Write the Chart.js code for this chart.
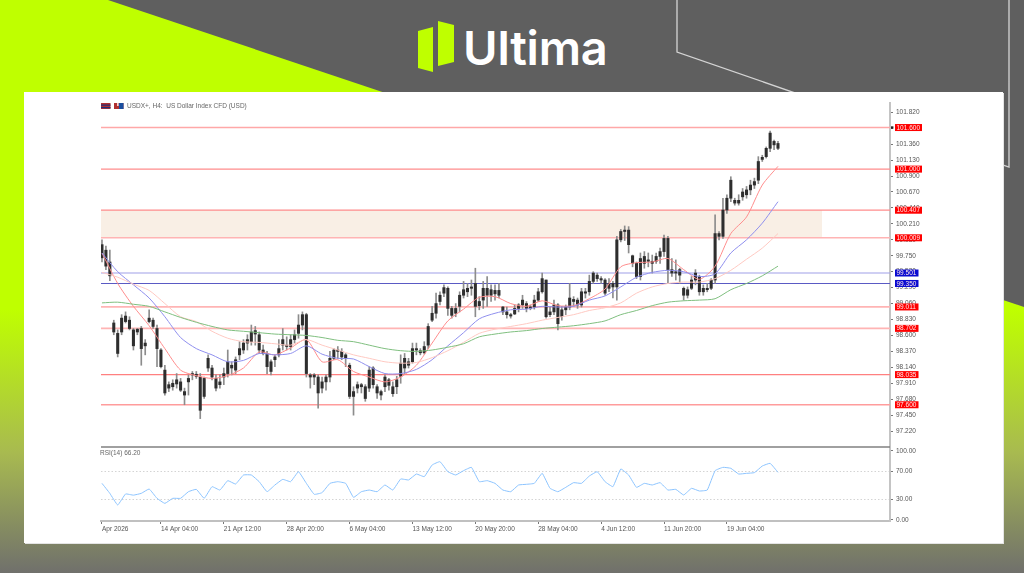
<!DOCTYPE html>
<html><head><meta charset="utf-8">
<script src="https://cdn.jsdelivr.net/npm/chart.js@4"></script>
<style>
html,body{margin:0;padding:0;width:1024px;height:573px;overflow:hidden;background:#5f5f5f}
#bg{position:absolute;left:0;top:0}
#card{position:absolute;left:24px;top:92px;width:979px;height:451px;background:#fff;box-shadow:1px 1px 0 #e4e4e4}
#c{position:absolute;left:0;top:0;filter:blur(0.4px)}
</style></head><body>
<svg id="bg" width="1024" height="573" viewBox="0 0 1024 573">
<defs><linearGradient id="g" gradientUnits="userSpaceOnUse" x1="0" y1="0" x2="0" y2="573">
<stop offset="0.54" stop-color="#bfff00"/><stop offset="0.79" stop-color="#a8ba50"/><stop offset="1" stop-color="#70706c"/></linearGradient></defs>
<rect width="1024" height="573" fill="#5f5f5f"/>
<polygon points="0,0 108,0 1024,307 1024,573 0,573" fill="url(#g)"/>
<polyline points="677,0 677,52 1009,167 1009,0" fill="none" stroke="#d4d4d4" stroke-width="1.3"/>
<polygon points="418,31 433,27 433,72 418,68" fill="#bfff00"/>
<polygon points="438,21 454,25 454,62 438,66" fill="#bfff00"/>
<text x="463" y="65" font-family="Inter" font-weight="600" font-size="47" letter-spacing="-0.2" fill="#fff">Ultima</text>
</svg>
<div id="card"><canvas id="c" width="979" height="451"></canvas></div>
<script>
const barHigh=[99.98,99.89,99.83,98.82,98.68,98.90,98.94,98.87,98.70,98.70,
98.73,98.54,98.97,98.85,98.75,98.41,98.17,97.93,97.96,98.05,
97.98,97.84,98.03,98.08,98.08,98.05,98.00,98.32,98.17,98.03,
98.03,98.13,98.39,98.22,98.29,98.51,98.54,98.61,98.75,98.73,
98.65,98.46,98.37,98.25,98.32,98.54,98.70,98.58,98.61,98.68,
98.90,98.94,98.92,98.05,98.05,98.03,98.00,98.03,98.37,98.41,
98.44,98.41,98.34,98.20,97.86,97.93,97.91,97.89,98.15,98.15,
97.89,97.81,98.03,97.98,97.93,98.01,98.32,98.34,98.27,98.49,
98.49,98.41,98.51,98.77,99.02,99.21,99.23,99.33,99.30,99.02,
99.06,99.23,99.38,99.35,99.40,99.57,99.16,99.38,99.45,99.33,
99.33,99.35,99.02,99.01,98.92,99.04,99.06,99.18,99.09,99.04,
99.18,99.28,99.50,99.40,99.02,99.11,99.06,99.02,99.04,99.35,
99.16,99.14,99.28,99.28,99.47,99.52,99.50,99.45,99.42,99.42,
99.38,100.03,100.13,100.18,100.17,99.76,99.66,99.79,99.81,99.79,
99.76,99.79,99.86,100.05,100.03,99.71,99.69,99.57,99.30,99.30,
99.45,99.55,99.47,99.33,99.35,99.42,100.34,100.10,100.58,100.63,
100.89,100.58,100.63,100.72,100.75,100.84,100.87,101.18,101.20,101.32,
101.55,101.42,101.40];
const barLow=[99.66,99.55,99.39,98.61,98.29,98.61,98.78,98.68,98.39,98.61,
98.17,98.32,98.78,98.70,98.15,98.13,97.74,97.79,97.81,97.84,
97.79,97.60,97.74,97.96,97.98,97.40,97.69,98.08,97.96,97.80,
97.84,97.89,98.00,98.03,98.05,98.25,98.34,98.39,98.46,98.46,
98.34,98.32,98.05,98.03,98.15,98.29,98.39,98.39,98.39,98.49,
98.56,98.68,98.00,97.84,97.89,97.55,97.77,97.81,97.93,98.25,
98.27,98.25,98.15,97.69,97.45,97.77,97.77,97.65,97.79,97.84,
97.69,97.67,97.79,97.81,97.72,97.76,97.91,98.05,98.13,98.20,
98.32,98.32,98.33,98.41,98.80,98.85,99.04,99.16,98.89,98.85,
98.87,98.94,99.14,99.16,99.18,98.87,98.97,98.99,99.02,99.09,
99.11,99.14,98.90,98.85,98.85,98.90,98.94,98.99,98.94,98.97,
98.98,99.09,99.21,98.85,98.87,98.90,98.68,98.82,98.90,98.97,
99.02,98.99,99.01,99.14,99.18,99.35,99.38,99.35,99.18,99.23,
99.14,99.11,99.95,99.97,99.79,99.59,99.42,99.40,99.57,99.59,
99.50,99.64,99.64,99.74,99.35,99.45,99.40,99.35,99.11,99.14,
99.26,99.33,99.18,99.18,99.23,99.26,99.35,99.98,100.00,100.36,
100.53,100.48,100.48,100.55,100.58,100.63,100.72,100.79,101.11,101.16,
101.25,101.28,101.28];
const barOpen=[99.91,99.83,99.66,98.78,98.63,98.85,98.88,98.82,98.68,98.69,
98.70,98.49,98.85,98.82,98.70,98.39,98.10,97.89,97.91,97.96,
97.93,97.79,97.93,98.03,98.04,98.00,97.98,98.27,98.13,97.98,
97.89,98.00,98.05,98.17,98.10,98.32,98.39,98.49,98.51,98.67,
98.61,98.39,98.34,98.08,98.25,98.32,98.46,98.46,98.44,98.54,
98.63,98.75,98.90,98.03,98.00,98.00,97.84,97.93,98.00,98.27,
98.37,98.37,98.32,98.17,97.72,97.84,97.89,97.86,97.84,98.13,
97.86,97.79,97.86,97.96,97.76,97.86,98.01,98.13,98.17,98.22,
98.41,98.38,98.35,98.46,98.82,98.92,99.09,99.21,99.28,98.99,
98.92,99.02,99.18,99.23,99.28,99.02,99.03,99.11,99.28,99.18,
99.20,99.25,99.01,98.94,98.90,98.91,98.99,99.04,99.06,99.01,
99.01,99.11,99.23,99.40,98.90,98.94,99.04,98.87,98.97,99.01,
99.12,99.11,99.04,99.21,99.23,99.38,99.47,99.42,99.40,99.28,
99.35,99.30,99.98,100.10,100.12,99.75,99.64,99.71,99.64,99.67,
99.67,99.67,99.74,99.81,100.00,99.55,99.50,99.55,99.28,99.18,
99.28,99.40,99.45,99.23,99.28,99.28,99.40,100.07,100.03,100.41,
100.58,100.55,100.51,100.60,100.63,100.70,100.77,100.84,101.14,101.18,
101.30,101.40,101.37];
const barClose=[99.72,99.60,99.46,98.65,98.34,98.65,98.80,98.70,98.45,98.65,
98.41,98.45,98.80,98.73,98.41,98.15,97.77,97.84,97.86,97.90,
97.81,97.74,97.98,98.05,98.01,97.52,97.72,98.13,98.00,97.84,
97.93,98.05,98.22,98.13,98.25,98.41,98.49,98.54,98.65,98.62,
98.39,98.34,98.15,98.22,98.29,98.41,98.54,98.44,98.54,98.61,
98.75,98.90,98.05,98.00,98.03,97.77,97.93,98.00,98.27,98.39,
98.39,98.29,98.27,97.72,97.79,97.89,97.86,97.69,98.10,97.89,
97.77,97.74,98.00,97.88,97.86,97.96,98.20,98.27,98.22,98.41,
98.39,98.35,98.44,98.73,98.92,99.06,99.18,99.29,98.99,98.89,
98.99,99.18,99.26,99.28,99.30,99.35,99.09,99.28,99.18,99.26,
99.25,99.18,98.94,98.90,98.88,98.99,99.04,99.11,98.99,98.99,
99.11,99.23,99.42,98.87,98.94,99.04,98.77,98.97,99.01,99.14,
99.09,99.04,99.23,99.23,99.38,99.50,99.42,99.40,99.21,99.35,
99.30,99.98,100.10,100.12,99.91,99.64,99.45,99.45,99.74,99.69,
99.64,99.74,99.81,100.00,99.55,99.50,99.52,99.47,99.18,99.26,
99.40,99.50,99.23,99.28,99.26,99.40,100.07,100.03,100.41,100.58,
100.84,100.51,100.55,100.67,100.70,100.77,100.82,101.11,101.17,101.30,
101.52,101.35,101.30];
// moving averages, read every 4th bar
const maStep=4;
const maRed=[99.79,99.35,99.02,98.74,98.41,98.10,98.02,97.98,98.02,98.13,98.36,98.32,98.42,98.54,98.22,98.25,98.08,98.00,97.93,98.00,98.17,98.49,98.81,98.98,99.15,99.16,99.06,99.02,99.10,99.03,99.03,99.13,99.27,99.59,99.65,99.66,99.71,99.55,99.41,99.60,100.07,100.31,100.77,101.04];
const maBlue=[99.79,99.52,99.33,99.14,98.87,98.57,98.41,98.32,98.22,98.24,98.34,98.32,98.34,98.45,98.33,98.27,98.26,98.15,98.05,98.05,98.11,98.25,98.45,98.64,98.84,98.92,98.97,98.98,99.02,99.01,99.02,99.11,99.17,99.30,99.44,99.51,99.54,99.52,99.45,99.49,99.79,99.98,100.22,100.53];
const maPink=[99.51,99.44,99.34,99.25,99.06,98.87,98.80,98.66,98.56,98.51,98.50,98.48,98.46,98.54,98.46,98.39,98.32,98.27,98.22,98.20,98.21,98.28,98.38,98.50,98.63,98.69,98.73,98.77,98.82,98.86,98.90,98.96,99.00,99.07,99.21,99.30,99.35,99.37,99.37,99.42,99.54,99.70,99.86,100.07];
const maGreen=[99.07,99.08,99.05,99.02,98.94,98.86,98.79,98.73,98.68,98.66,98.64,98.62,98.61,98.60,98.57,98.53,98.51,98.46,98.41,98.38,98.37,98.39,98.43,98.48,98.58,98.62,98.65,98.67,98.70,98.72,98.74,98.77,98.81,98.90,98.96,99.03,99.08,99.10,99.11,99.13,99.26,99.35,99.46,99.60];
// RSI(14), read every 2nd bar
const rsiStep=2;
const rsiValues=[53.1,38.6,21.7,37.7,36,38.6,44.9,31.4,24.1,31.4,31.4,41,44.4,31.4,48.3,43.4,57,52.1,65.2,65.2,55.5,41,50.7,58.9,55.5,70,53.1,37.2,39.6,53.1,55.5,53.1,32.8,41,43.4,41,50.7,43.4,59.4,58,66.6,62.8,79.7,84.5,70,65.2,71.5,76.3,55.5,57,53.1,43.4,41,50.7,51.7,53.1,67.6,45.9,41,47.3,54.1,53.1,63.7,70,55.5,48.3,73.9,65.2,47.3,53.1,50.7,54.1,43.4,44.4,36.2,45.9,42,43.4,71.5,76.3,74.9,66.6,67.6,68.6,78.2,82.1,69];
const priceTicks=[101.82,101.59,101.36,101.13,100.90,100.67,100.44,100.21,99.98,99.75,99.52,99.29,99.06,98.83,98.60,98.37,98.14,97.91,97.68,97.45,97.22];
const rsiTicks=[100,70,30,0];
const xTickBars=[0,15,31,47,63,79,95,111,127,143,159];
const xTickText=['Apr 2026','14 Apr 04:00','21 Apr 12:00','28 Apr 20:00','6 May 04:00','13 May 12:00','20 May 20:00','28 May 04:00','4 Jun 12:00','11 Jun 20:00','19 Jun 04:00'];
const levelValues=[101.6,101.0,100.407,100.009,99.501,99.35,99.011,98.702,98.035,97.6];
const levelLabels=['101.600','101.000','100.407','100.009','99.501','99.350','99.011','98.702','98.035','97.600'];
const levelLineColors=['#ffa8a8','#ff8c8c','#ff8c8c','#ffb4b4','#a0a0e8','#5a5ac4','#ffb4b4','#ffb4b4','#ff8080','#ff9c9c'];
const levelLineWidths=[1.4,1.2,1.2,1.6,1.1,1.1,1.8,1.6,1.1,1.4];
const levelTagColors=['#ff0000','#ff0000','#ff0000','#ff0000','#0a0ad0','#0a0ad0','#ff0000','#ff0000','#ff0000','#ff0000'];
const zoneLow=100.009, zoneHigh=100.407, zoneEndBar=183.2;
const titleText='USDX+, H4:  US Dollar Index CFD (USD)';
const rsiText='RSI(14) 66.20';
const FONT='"Liberation Sans"';

const wicks=barHigh.map((h,i)=>({x:i,y:[barLow[i],h]}));
const bodies=barOpen.map((o,i)=>({x:i,y:[o,barClose[i]]}));
const sampled=(arr,step)=>arr.map((v,k)=>({x:k*step,y:v}));
const lineDs=(label,arr,color,yAxisID,step,order)=>({type:'line',label,data:sampled(arr,step),borderColor:color,borderWidth:1,pointRadius:0,tension:0.25,yAxisID,xAxisID:'x',order});

const overlay={id:'overlay',
 beforeDatasetsDraw(ch){
  const c=ch.ctx,x=ch.scales.x,y=ch.scales.y;
  c.save();
  c.fillStyle='#f9efe5';
  const yt=y.getPixelForValue(zoneHigh),yb=y.getPixelForValue(zoneLow);
  c.fillRect(x.left,yt,x.getPixelForValue(zoneEndBar)-x.left,yb-yt);
  levelValues.forEach((v,i)=>{
   const p=y.getPixelForValue(v);
   c.strokeStyle=levelLineColors[i];c.lineWidth=levelLineWidths[i];
   c.beginPath();c.moveTo(x.left,p);c.lineTo(x.right,p);c.stroke();
  });
  c.restore();
 },
 afterDraw(ch){
  const c=ch.ctx,x=ch.scales.x,y=ch.scales.y,r=ch.scales.yRsi;
  c.save();
  // separator between the panes
  c.strokeStyle='#808080';c.lineWidth=1.6;
  c.beginPath();c.moveTo(x.left,y.bottom-1);c.lineTo(x.right,y.bottom-1);c.stroke();
  // price tags
  c.font='6.5px '+FONT;c.textBaseline='middle';c.textAlign='left';
  levelValues.forEach((v,i)=>{
   const p=y.getPixelForValue(v);
   const w=levelLabels[i].length>6?27:23.5;
   c.fillStyle=levelTagColors[i];
   c.fillRect(x.right+5,p-3.5,w,7);
   c.fillStyle='#ffe8e8';
   c.fillText(levelLabels[i],x.right+6.5,p+0.3);
  });
  // current price marker
  c.fillStyle='#222';
  c.fillRect(x.right+1,y.getPixelForValue(levelValues[0])-1.2,2.4,2.4);
  // header text
  c.fillStyle='#666';
  c.fillText(titleText,x.left+26,14.5);
  c.fillText(rsiText,x.left-1,r.top+5);
  // header icons
  const icons=[[x.left,'#b03030','#20307a'],[x.left+13,'#b03030','#1a4fa0']];
  icons.forEach(([ix,a,b],k)=>{
   c.fillStyle=a;c.fillRect(ix,11,9.5,6);
   c.fillStyle=b;
   if(k===0){c.fillRect(ix,12.5,9.5,1.2);c.fillRect(ix,15,9.5,1.2);}
   else{c.fillRect(ix+5,11,4.5,6);c.fillStyle='#fff';c.fillRect(ix+3.2,11,1.3,3);}
  });
  c.restore();
 }};

new Chart(document.getElementById('c'),{
 data:{datasets:[
  {type:'bar',label:'High-Low',data:wicks,backgroundColor:'#8c8c8c',barThickness:1,maxBarThickness:1,grouped:false,minBarLength:1,yAxisID:'y',xAxisID:'x',order:6},
  {type:'bar',label:'Open-Close',data:bodies,backgroundColor:'#2e2e2e',barThickness:2.4,maxBarThickness:2.4,grouped:false,minBarLength:1.2,yAxisID:'y',xAxisID:'x',order:5},
  lineDs('MA fast',maRed,'#ff8d8d','y',maStep,4),
  lineDs('MA medium',maBlue,'#8f8fee','y',maStep,3),
  lineDs('MA slow',maPink,'#ffc9c2','y',maStep,2),
  lineDs('MA long',maGreen,'#7fbf7f','y',maStep,1),
  {...lineDs('RSI(14)',rsiValues,'#8cc4ff','yRsi',rsiStep,0),tension:0.1}
 ]},
 plugins:[overlay],
 options:{
  responsive:false,animation:false,events:[],
  layout:{padding:{left:77,top:11,right:0,bottom:0}},
  plugins:{legend:{display:false},tooltip:{enabled:false},title:{display:false}},
  scales:{
   x:{type:'linear',position:'bottom',min:-0.25,max:200.5,offset:false,
    afterBuildTicks(s){s.ticks=xTickBars.map(v=>({value:v}));},
    afterFit(s){s.height=22;},
    grid:{offset:false,drawOnChartArea:false,tickLength:3,tickColor:'#777'},
    border:{color:'#c0c0c0',width:2},
    ticks:{autoSkip:false,maxRotation:0,minRotation:0,align:'start',padding:1,color:'#555',font:{family:FONT,size:6.5},
     callback(v){return xTickText[xTickBars.indexOf(v)];}}},
   y:{type:'linear',position:'right',stack:'panes',stackWeight:345,min:96.976,max:101.954,
    afterBuildTicks(s){s.ticks=priceTicks.map(v=>({value:v}));},
    afterFit(s){s.width=113;},
    grid:{drawOnChartArea:false,tickLength:3,tickColor:'#777'},
    border:{color:'#c4c4c4',width:2},
    ticks:{autoSkip:false,padding:3,color:'#555',font:{family:FONT,size:6.5},callback(v){return v.toFixed(3);}}},
   yRsi:{type:'linear',position:'right',stack:'panes',stackWeight:73,min:-1.45,max:104.3,
    afterBuildTicks(s){s.ticks=rsiTicks.map(v=>({value:v}));},
    afterFit(s){s.width=113;},
    grid:{drawOnChartArea:true,lineWidth:1,tickLength:3,tickColor:'#777',tickBorderDash:[],
     color(ctx){const v=ctx.tick&&ctx.tick.value;return (v===70||v===30)?'#d4d4d4':'rgba(0,0,0,0)';}},
    border:{color:'#c4c4c4',width:2,dash:[1.5,2]},
    ticks:{autoSkip:false,padding:3,color:'#555',font:{family:FONT,size:6.5},callback(v){return v.toFixed(2);}}}
  }
 }
});
</script>
</body></html>
